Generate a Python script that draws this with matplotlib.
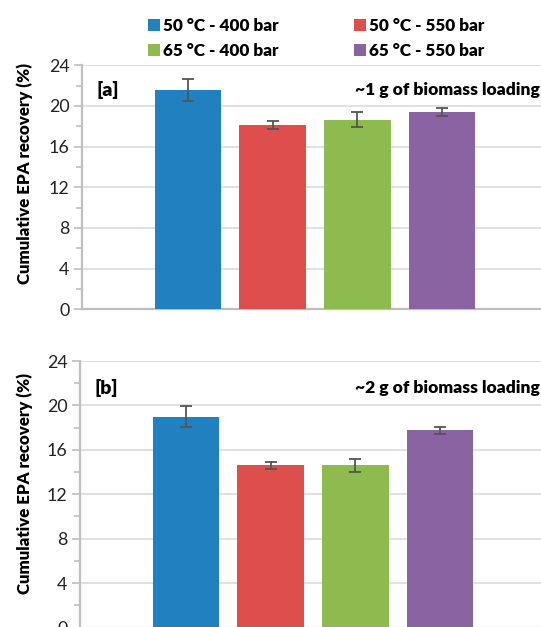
import numpy as np
import matplotlib.pyplot as plt
from matplotlib.ticker import MultipleLocator

plt.rcParams['font.family'] = ['Lato', 'DejaVu Sans']

# conditions (temperature - pressure) and EPA recovery per panel
conditions = ['50 °C - 400 bar', '50 °C - 550 bar', '65 °C - 400 bar', '65 °C - 550 bar']
colors = ['#2180C0', '#DE4E4D', '#8DBB4F', '#8A63A2']

recovery_1g = [21.6, 18.15, 18.65, 19.4]
error_1g = [1.1, 0.37, 0.74, 0.41]

recovery_2g = [19.0, 14.6, 14.6, 17.75]
error_2g = [0.97, 0.33, 0.6, 0.35]

panels = [
    ('[a]', '~1 g of biomass loading', recovery_1g, error_1g),
    ('[b]', '~2 g of biomass loading', recovery_2g, error_2g),
]

W, H = 541, 627
fig = plt.figure(figsize=(W / 100, H / 100), dpi=100)

# axes boxes in pixels: left, right, y of 24, y of 0, y of the axis title centre
boxes = [(82, 548, 65.3, 309.3, 173), (80, 546, 361, 627.5, 483)]

x = np.arange(4)
handles = []
for (tag, note, vals, errs), (l, r, ytop, ybot, yl) in zip(panels, boxes):
    ax = fig.add_axes([l / W, 1 - ybot / H, (r - l) / W, (ybot - ytop) / H])
    bars = []
    for i in range(4):
        b = ax.bar(x[i], vals[i], width=0.79, color=colors[i], yerr=errs[i],
                   capsize=4, label=conditions[i], zorder=3,
                   error_kw=dict(ecolor='#555555', elinewidth=1.3, capthick=1.3))
        bars.append(b)
    handles = bars
    ax.set_xlim(1.5 - 2.751, 1.5 + 2.751)
    ax.set_ylim(0, 24)
    ax.yaxis.set_major_locator(MultipleLocator(4))
    ax.yaxis.set_minor_locator(MultipleLocator(2))
    ax.grid(axis='y', which='major', color='#d9d9d9', linewidth=1.1, zorder=0)
    ax.set_xticks([])
    for s in ['top', 'right']:
        ax.spines[s].set_visible(False)
    for s in ['left', 'bottom']:
        ax.spines[s].set_color('#bfbfbf')
        ax.spines[s].set_linewidth(1.6)
    ax.tick_params(axis='y', which='major', length=6, width=1.2, color='#bfbfbf',
                   labelsize=12.8, labelcolor='#222222', pad=3)
    ax.tick_params(axis='y', which='minor', length=4, width=1.2, color='#bfbfbf')
    ax.set_ylabel('Cumulative EPA recovery (%)', fontsize=12.2, fontweight='heavy')
    ax.yaxis.set_label_coords((33 - l) / (r - l), (ybot - yl) / (ybot - ytop))
    ax.text(14 / (r - l), 0.9, tag, transform=ax.transAxes, fontsize=14,
            fontweight='heavy', ha='left', va='center')
    ax.text((540 - l) / (r - l), 0.9, note, transform=ax.transAxes, fontsize=12.6,
            fontweight='heavy', ha='right', va='center')

order = [0, 2, 1, 3]
fig.legend([handles[i] for i in order], [conditions[i] for i in order],
           ncol=2, loc='center', bbox_to_anchor=(316 / W, 1 - 38.5 / H),
           frameon=False, prop=dict(weight='heavy', size=12.3),
           handlelength=0.7, handleheight=0.7, handletextpad=0.2,
           columnspacing=4.4, labelspacing=0.5)

fig.savefig('out.png', dpi=100)
